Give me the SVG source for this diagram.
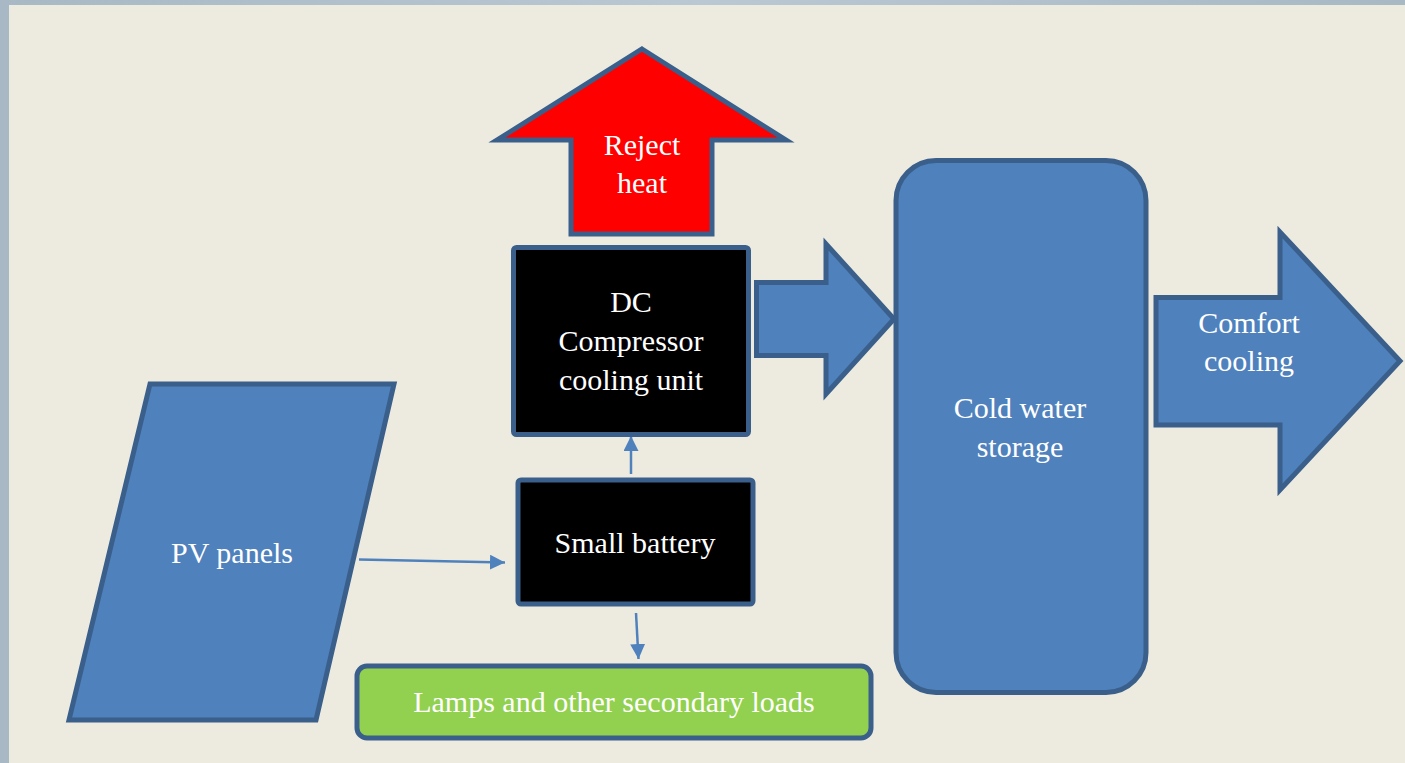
<svg xmlns="http://www.w3.org/2000/svg" width="1405" height="763" viewBox="0 0 1405 763">
<style>
.shape{stroke:#3A5F8B;stroke-width:5;stroke-linejoin:miter}
.blue{fill:#4F81BD}
.black{fill:#000}
.red{fill:#FF0000}
.green{fill:#92D050}
.lbl{font-family:"Liberation Serif","DejaVu Serif",serif;font-size:30px;fill:#FFFFFF;text-anchor:middle}
.conn{stroke:#4F81BD;stroke-width:2.5;fill:none}
</style>
<defs>
<linearGradient id="frame" x1="0" y1="0" x2="1" y2="0">
<stop offset="0" stop-color="#A8B8C5"/>
<stop offset="0.5" stop-color="#B9C8D3"/>
<stop offset="1" stop-color="#A8B8C5"/>
</linearGradient>
<marker id="ah" viewBox="0 0 10 10" refX="10" refY="5" markerWidth="6" markerHeight="6" markerUnits="strokeWidth" orient="auto">
<path d="M0,0 L10,5 L0,10 z" fill="#4F81BD"/>
</marker>
</defs>
<rect x="0" y="0" width="1405" height="763" fill="url(#frame)"/>
<rect x="9" y="5" width="1396" height="758" fill="#EDEBE0"/>

<g id="connectors">
<line class="conn" x1="359" y1="559.5" x2="505" y2="562.5" marker-end="url(#ah)"/>
<line class="conn" x1="631" y1="474" x2="631" y2="436" marker-end="url(#ah)"/>
<line class="conn" x1="636" y1="613" x2="638.5" y2="659" marker-end="url(#ah)"/>
</g>

<g id="reject-heat">
<polygon class="shape red" points="642,49 786,140 712,140 712,234 571,234 571,140 497,140"/>
<text class="lbl" x="642" y="155">Reject</text>
<text class="lbl" x="642" y="193">heat</text>
</g>

<g id="dc-compressor">
<rect class="shape black" x="513.5" y="247.5" width="235" height="187" rx="3"/>
<text class="lbl" x="631" y="312">DC</text>
<text class="lbl" x="631" y="351">Compressor</text>
<text class="lbl" x="631" y="390">cooling unit</text>
</g>

<g id="small-battery">
<rect class="shape black" x="518" y="480" width="235" height="124" rx="3"/>
<text class="lbl" x="635" y="553">Small battery</text>
</g>

<g id="pv-panels">
<polygon class="shape blue" points="150,384 394,384 316,720 69,720"/>
<text class="lbl" x="232" y="563">PV panels</text>
</g>

<g id="lamps">
<rect class="shape green" x="357" y="666" width="514" height="72" rx="10"/>
<text class="lbl" x="614" y="712">Lamps and other secondary loads</text>
</g>

<g id="cooling-arrow">
<polygon class="shape blue" points="756.5,282.5 826,282.5 826,244 894,319 826,394 826,355.5 756.5,355.5"/>
</g>

<g id="cold-water-storage">
<rect class="shape blue" x="896" y="160.5" width="250" height="532" rx="40"/>
<text class="lbl" x="1020" y="418">Cold water</text>
<text class="lbl" x="1020" y="457">storage</text>
</g>

<g id="comfort-cooling">
<polygon class="shape blue" points="1156,297.5 1280,297.5 1280,232 1400,361 1280,490 1280,425 1156,425"/>
<text class="lbl" x="1249" y="333">Comfort</text>
<text class="lbl" x="1249" y="371">cooling</text>
</g>
</svg>
